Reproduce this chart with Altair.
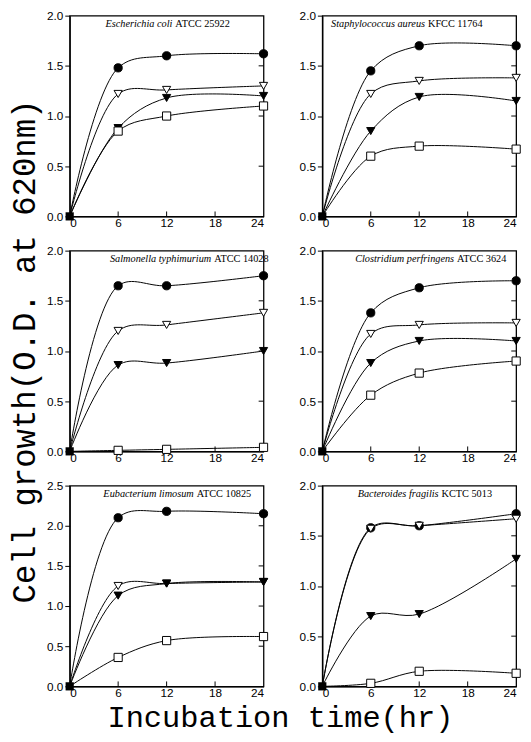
import altair as alt
import pandas as pd

hours = [0, 6, 12, 24]
series_keys = ["A", "B", "C", "D"]  # filled circle, open tri-down, filled tri-down, open square

species = ["Escherichia coli", "Staphylococcus aureus", "Salmonella typhimurium",
           "Clostridium perfringens", "Eubacterium limosum", "Bacteroides fragilis"]
strains = ["ATCC 25922", "KFCC 11764", "ATCC 14028", "ATCC  3624", "ATCC 10825", "KCTC  5013"]
ymax = [2.0, 2.0, 2.0, 2.0, 2.5, 2.0]

ecoli_A = [0, 1.48, 1.60, 1.62]
ecoli_B = [0, 1.22, 1.26, 1.30]
ecoli_C = [0, 0.88, 1.18, 1.20]
ecoli_D = [0, 0.85, 1.00, 1.10]

saur_A = [0, 1.45, 1.70, 1.70]
saur_B = [0, 1.22, 1.35, 1.38]
saur_C = [0, 0.85, 1.19, 1.15]
saur_D = [0, 0.60, 0.70, 0.67]

salm_A = [0, 1.65, 1.65, 1.75]
salm_B = [0, 1.20, 1.26, 1.38]
salm_C = [0, 0.86, 0.88, 1.00]
salm_D = [0, 0.01, 0.02, 0.04]

clos_A = [0, 1.38, 1.63, 1.70]
clos_B = [0, 1.17, 1.26, 1.28]
clos_C = [0, 0.88, 1.10, 1.10]
clos_D = [0, 0.56, 0.78, 0.90]

eubac_A = [0, 2.10, 2.18, 2.15]
eubac_B = [0, 1.25, 1.28, 1.30]
eubac_C = [0, 1.13, 1.28, 1.30]
eubac_D = [0, 0.36, 0.57, 0.62]

bact_A = [0, 1.58, 1.60, 1.72]
bact_B = [0, 1.57, 1.60, 1.67]
bact_C = [0, 0.70, 0.72, 1.27]
bact_D = [0, 0.03, 0.15, 0.13]

panel_values = [
    [ecoli_A, ecoli_B, ecoli_C, ecoli_D],
    [saur_A, saur_B, saur_C, saur_D],
    [salm_A, salm_B, salm_C, salm_D],
    [clos_A, clos_B, clos_C, clos_D],
    [eubac_A, eubac_B, eubac_C, eubac_D],
    [bact_A, bact_B, bact_C, bact_D],
]
# x position (fraction of width) where the italic species name ends
label_split = [0.53, 0.53, 0.73, 0.68, 0.64, 0.60]
x_tick_values = [0, 6, 12, 18, 24]

W, H = 198, 205
TFONT = "Liberation Mono"

shape_scale = alt.Scale(domain=series_keys,
                        range=["circle", "triangle-down", "triangle-down", "square"])
fill_scale = alt.Scale(domain=series_keys, range=["black", "white", "black", "white"])


def make_panel(i):
    rows = []
    for k, vals in zip(series_keys, panel_values[i]):
        for h, v in zip(hours, vals):
            rows.append({"hour": h, "od": v, "series": k})
    df = pd.DataFrame(rows)
    ym = ymax[i]
    yticks = [round(0.5 * j, 1) for j in range(int(round(ym / 0.5)) + 1)]
    ytitle = "Cell growth(O.D. at 620nm)" if i == 2 else None

    xscale = alt.Scale(domain=[0, 24], nice=False)
    yscale = alt.Scale(domain=[0, ym], nice=False)
    xaxis = alt.Axis(values=x_tick_values, title=None, ticks=False,
                     labelPadding=1, grid=False, labelOverlap=False)
    yaxis = alt.Axis(values=yticks, format=".1f", title=ytitle, grid=False,
                     tickSize=5, titleFont=TFONT, titleFontSize=33,
                     titleFontWeight="normal", titlePadding=5,
                     labelOverlap=False, labelFlush=False)
    x = alt.X("hour:Q", scale=xscale, axis=xaxis)
    y = alt.Y("od:Q", scale=yscale, axis=yaxis)

    base = alt.Chart(df)
    lines = base.mark_line(interpolate="catmull-rom", color="black", strokeWidth=1).encode(
        x=x, y=y, detail="series:N")
    pts = base.transform_filter(alt.datum.hour > 0).mark_point(
        filled=True, size=70, stroke="black", strokeWidth=1, opacity=1).encode(
        x=x, y=y,
        shape=alt.Shape("series:N", scale=shape_scale, legend=None),
        fill=alt.Fill("series:N", scale=fill_scale, legend=None))
    origin = base.transform_filter(alt.datum.hour == 0).transform_filter(
        alt.datum.series == "A").mark_square(size=70, color="black", opacity=1).encode(x=x, y=y)

    xt = pd.DataFrame({"hour": x_tick_values[1:-1]})
    xticks = alt.Chart(xt).mark_rule(color="black", strokeWidth=1).encode(
        x=alt.X("hour:Q", scale=xscale, axis=xaxis),
        y=alt.value(H), y2=alt.value(H - 5))
    rt = pd.DataFrame({"od": yticks[1:-1]})
    rticks = alt.Chart(rt).mark_rule(color="black", strokeWidth=1).encode(
        y=alt.Y("od:Q", scale=yscale, axis=yaxis),
        x=alt.value(W), x2=alt.value(W - 5))

    lab = pd.DataFrame({"sp": [species[i]], "st": [strains[i]]})
    sx = label_split[i] * W
    t1 = alt.Chart(lab).mark_text(font="Liberation Serif", fontStyle="italic", fontSize=10.5,
                                  align="right", baseline="middle").encode(
        text="sp:N", x=alt.value(sx), y=alt.value(9))
    t2 = alt.Chart(lab).mark_text(font="Liberation Serif", fontSize=10.5,
                                  align="left", baseline="middle").encode(
        text="st:N", x=alt.value(sx + 3), y=alt.value(9))

    return alt.layer(lines, xticks, rticks, pts, origin, t1, t2).properties(width=W, height=H)


panels = [make_panel(i) for i in range(6)]

chart = alt.concat(*panels, columns=2, bounds="flush",
                   spacing={"row": 35, "column": 60}).properties(
    padding={"left": 0, "top": -7, "right": 0, "bottom": 0},
    title=alt.TitleParams("Incubation time(hr)", orient="bottom", anchor="middle",
                          font=TFONT, fontSize=31, fontWeight="normal", offset=5, dx=15)
).configure_view(stroke="black", strokeWidth=1.3).configure_axis(
    domainColor="black", tickColor="black", labelColor="black", titleColor="black",
    labelFont="Liberation Sans", labelFontSize=12, domainWidth=1.3
)

chart.save("out.html", embed_options={"renderer": "svg", "actions": False})
